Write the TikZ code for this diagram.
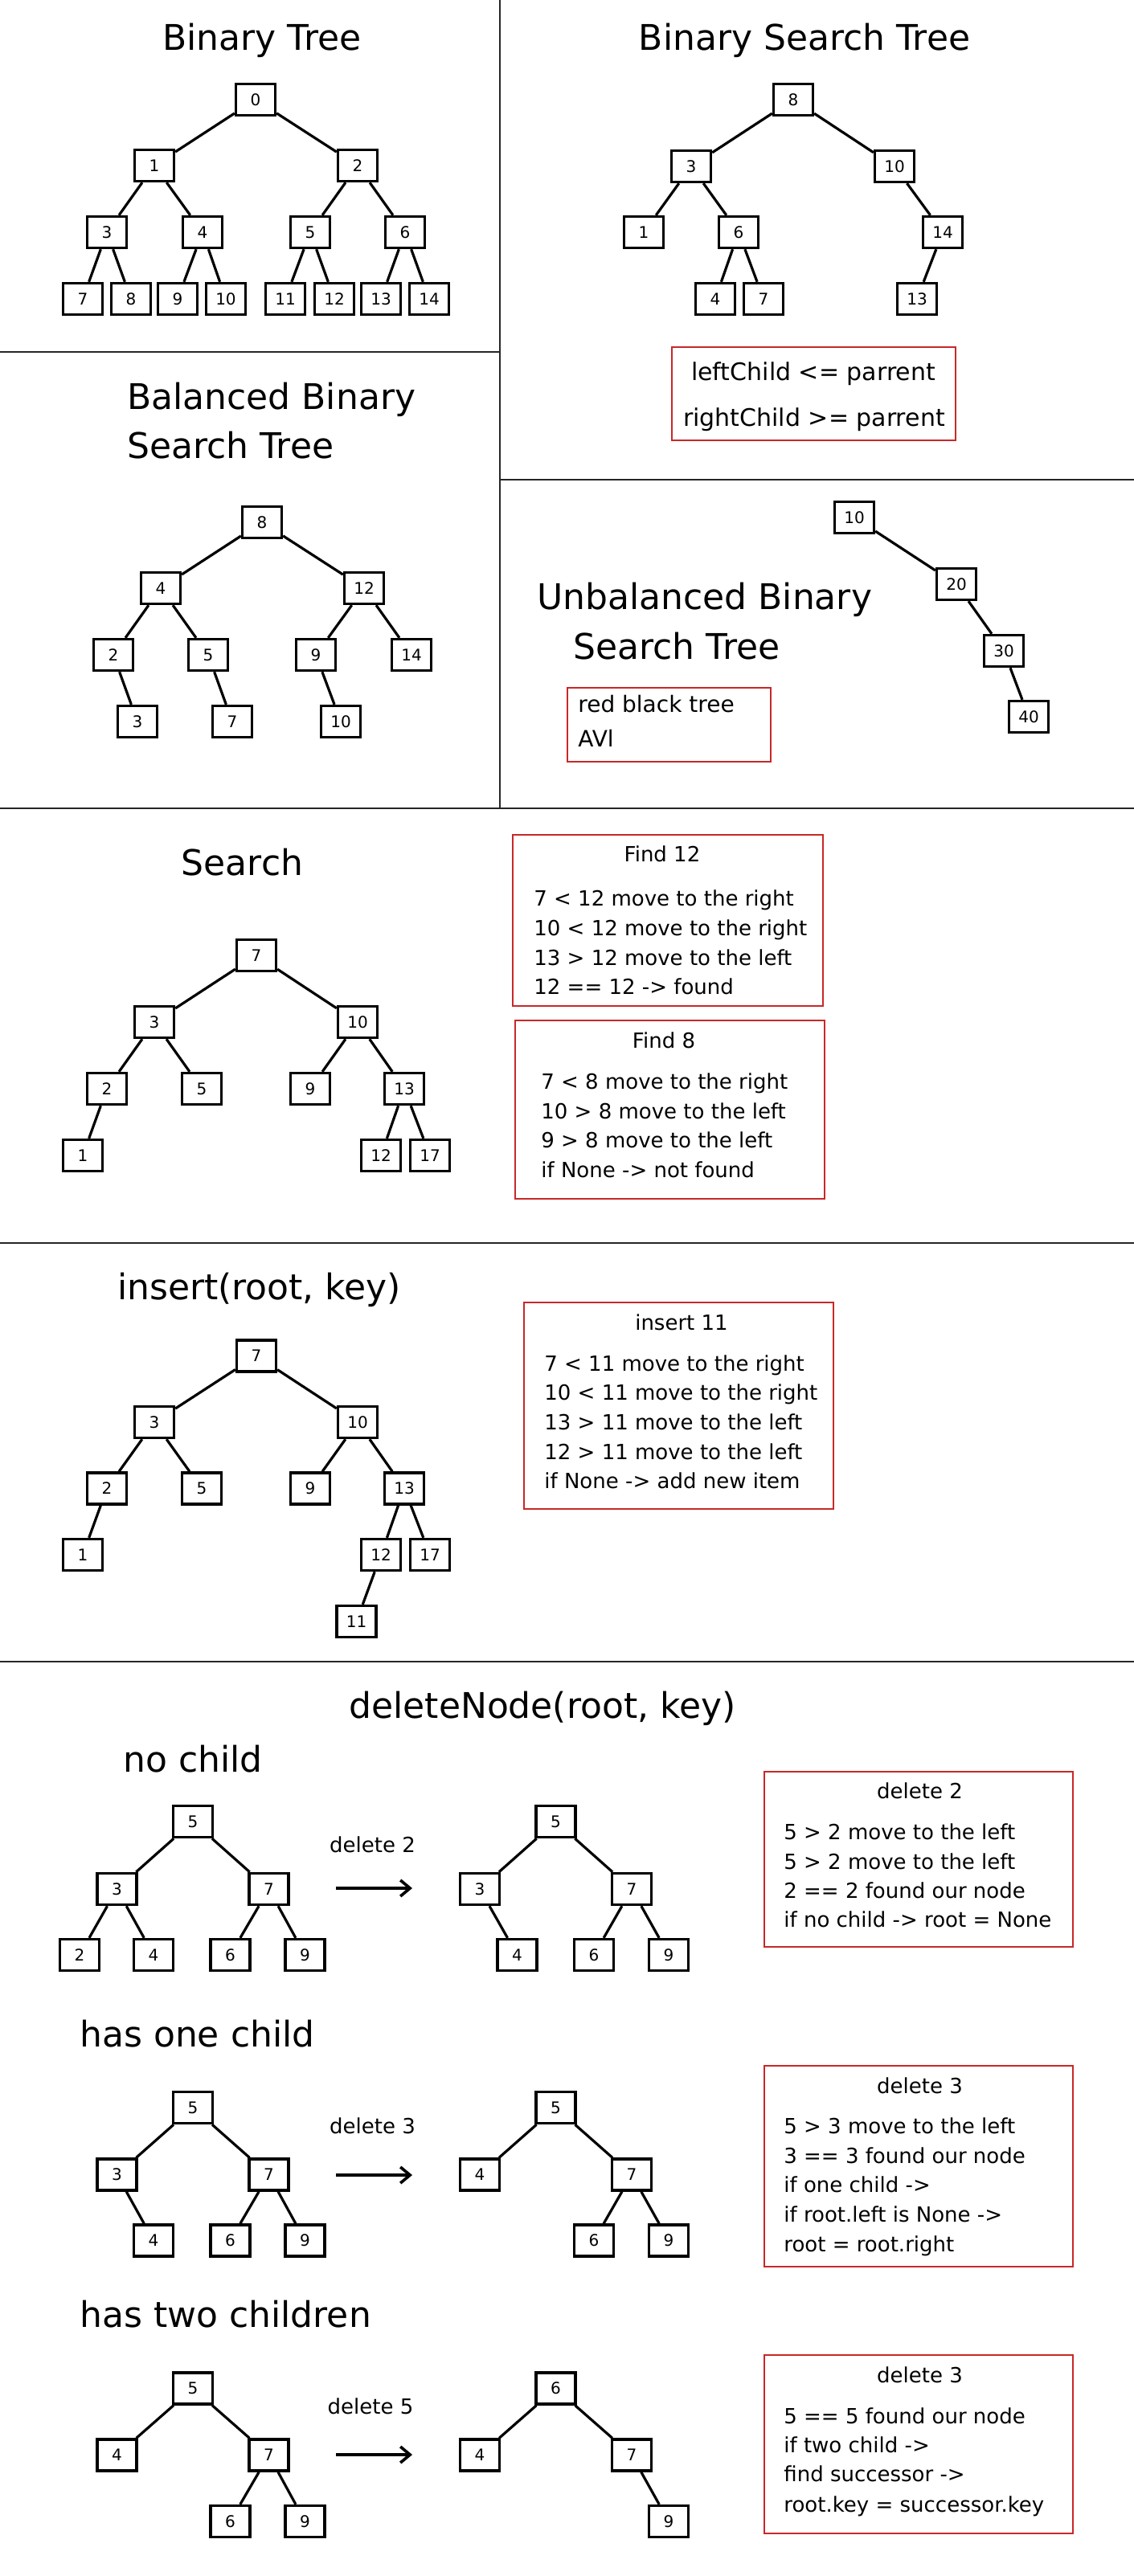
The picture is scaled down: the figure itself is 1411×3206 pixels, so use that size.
\documentclass[tikz,border=0pt]{standalone}
\usepackage{fontspec}
\setmainfont{DejaVu Sans}
\usetikzlibrary{arrows.meta}
\definecolor{boxred}{RGB}{200,40,40}
\begin{document}
\begin{tikzpicture}[x=0.5pt,y=-0.5pt,
  tn/.style={draw, line width=1.7pt, minimum width=24.5pt, minimum height=19.5pt, inner sep=0pt, font=\fontsize{10}{12}\selectfont},
  ed/.style={line width=1.6pt},
  sepline/.style={line width=1.4pt, draw=black!85},
  rbox/.style={draw=boxred, line width=1.1pt},
  ttl/.style={font=\fontsize{22}{26}\selectfont, anchor=base, inner sep=0pt},
  ttlw/.style={font=\fontsize{22}{26}\selectfont, anchor=base west, inner sep=0pt},
  bigtxt/.style={font=\fontsize{15}{18}\selectfont, anchor=base, inner sep=0pt},
  midtxt/.style={font=\fontsize{14}{17}\selectfont, anchor=base west, inner sep=0pt},
  smc/.style={font=\fontsize{13}{16}\selectfont, anchor=base, inner sep=0pt},
  smw/.style={font=\fontsize{13}{16}\selectfont, anchor=base west, inner sep=0pt},
  arr/.style={line width=1.8pt, -{Straight Barb[length=6pt,width=10pt,line width=1.8pt]}}
]
\fill[white] (0,0) rectangle (1411,3206);
\useasboundingbox (0,0) rectangle (1411,3206);

% separators
\coordinate (v1) at (622,0); \coordinate (v2) at (622,1006);
\coordinate (h1a) at (0,438); \coordinate (h1b) at (622,438);
\coordinate (h2a) at (622,597); \coordinate (h2b) at (1411,597);
\coordinate (h3a) at (0,1006); \coordinate (h3b) at (1411,1006);
\coordinate (h4a) at (0,1547); \coordinate (h4b) at (1411,1547);
\coordinate (h5a) at (0,2068); \coordinate (h5b) at (1411,2068);
\draw[sepline] (v1) -- (v2);
\draw[sepline] (h1a) -- (h1b);
\draw[sepline] (h2a) -- (h2b);
\draw[sepline] (h3a) -- (h3b);
\draw[sepline] (h4a) -- (h4b);
\draw[sepline] (h5a) -- (h5b);

% ---------- Binary Tree ----------
\node[ttl] (tBT) at (326,63) {Binary Tree};
\node[tn] (b0) at (318,124) {0};
\node[tn] (b1) at (192,206) {1};
\node[tn] (b2) at (445,206) {2};
\node[tn] (b3) at (133,289) {3};
\node[tn] (b4) at (252,289) {4};
\node[tn] (b5) at (386,289) {5};
\node[tn] (b6) at (504,289) {6};
\node[tn] (b7) at (103,372) {7};
\node[tn] (b8) at (163,372) {8};
\node[tn] (b9) at (221,372) {9};
\node[tn] (b10) at (281,372) {10};
\node[tn] (b11) at (355,372) {11};
\node[tn] (b12) at (416,372) {12};
\node[tn] (b13) at (474,372) {13};
\node[tn] (b14) at (534,372) {14};
\foreach \p/\c in {b0/b1,b0/b2,b1/b3,b1/b4,b2/b5,b2/b6,b3/b7,b3/b8,b4/b9,b4/b10,b5/b11,b5/b12,b6/b13,b6/b14}
  \draw[ed] (\p) -- (\c);

% ---------- Binary Search Tree ----------
\node[ttl] (tBST) at (1001,63) {Binary Search Tree};
\node[tn] (s8) at (987,124) {8};
\node[tn] (s3) at (860,207) {3};
\node[tn] (s10) at (1113,207) {10};
\node[tn] (s1) at (801,289) {1};
\node[tn] (s6) at (919,289) {6};
\node[tn] (s14) at (1173,289) {14};
\node[tn] (s4) at (890,372) {4};
\node[tn] (s7) at (950,372) {7};
\node[tn] (s13) at (1141,372) {13};
\foreach \p/\c in {s8/s3,s8/s10,s3/s1,s3/s6,s6/s4,s6/s7,s10/s14,s14/s13}
  \draw[ed] (\p) -- (\c);
\draw[rbox] (836,432) rectangle (1189,548);
\node[bigtxt] (bstl1) at (1012,473) {leftChild <= parrent};
\node[bigtxt] (bstl2) at (1013,530) {rightChild >= parrent};

% ---------- Balanced BST ----------
\node[ttlw] (tBal1) at (158,509) {Balanced Binary};
\node[ttlw] (tBal2) at (158,570) {Search Tree};
\node[tn] (c8) at (326,650) {8};
\node[tn] (c4) at (200,732) {4};
\node[tn] (c12) at (453,732) {12};
\node[tn] (c2) at (141,815) {2};
\node[tn] (c5) at (259,815) {5};
\node[tn] (c9) at (393,815) {9};
\node[tn] (c14) at (512,815) {14};
\node[tn] (c3) at (171,898) {3};
\node[tn] (c7) at (289,898) {7};
\node[tn] (c10) at (424,898) {10};
\foreach \p/\c in {c8/c4,c8/c12,c4/c2,c4/c5,c12/c9,c12/c14,c2/c3,c5/c7,c9/c10}
  \draw[ed] (\p) -- (\c);

% ---------- Unbalanced BST ----------
\node[ttlw] (tUn1) at (668,758) {Unbalanced Binary};
\node[ttlw] (tUn2) at (713,820) {Search Tree};
\node[tn] (u10) at (1063,644) {10};
\node[tn] (u20) at (1190,727) {20};
\node[tn] (u30) at (1249,810) {30};
\node[tn] (u40) at (1280,892) {40};
\foreach \p/\c in {u10/u20,u20/u30,u30/u40}
  \draw[ed] (\p) -- (\c);
\draw[rbox] (706,856) rectangle (959,948);
\node[midtxt] (unl1) at (719,886) {red black tree};
\node[midtxt] (unl2) at (719,929) {AVl};

% ---------- Search ----------
\node[ttl] (tSearch) at (301.5,1089) {Search};
\node[tn] (t7) at (319,1189) {7};
\node[tn] (t3) at (192,1272) {3};
\node[tn] (t10) at (445,1272) {10};
\node[tn] (t2) at (133,1355) {2};
\node[tn] (t5) at (251,1355) {5};
\node[tn] (t9) at (386,1355) {9};
\node[tn] (t13) at (503,1355) {13};
\node[tn] (t1) at (103,1438) {1};
\node[tn] (t12) at (474,1438) {12};
\node[tn] (t17) at (535,1438) {17};
\foreach \p/\c in {t7/t3,t7/t10,t3/t2,t3/t5,t10/t9,t10/t13,t2/t1,t13/t12,t13/t17}
  \draw[ed] (\p) -- (\c);
\draw[rbox] (638,1039) rectangle (1024,1252);
\node[smc] (f12t) at (824,1072) {Find 12};
\node[smw] (f12a) at (664,1127) {7 < 12 move to the right};
\node[smw] (f12b) at (664,1164) {10 < 12 move to the right};
\node[smw] (f12c) at (664,1201) {13 > 12 move to the left};
\node[smw] (f12d) at (664,1237) {12 == 12 -> found};
\draw[rbox] (641,1270) rectangle (1026,1492);
\node[smc] (f8t) at (826,1304) {Find 8};
\node[smw] (f8a) at (673,1355) {7 < 8 move to the right};
\node[smw] (f8b) at (673,1392) {10 > 8 move to the left};
\node[smw] (f8c) at (673,1428) {9 > 8 move to the left};
\node[smw] (f8d) at (673,1465) {if None -> not found};

% ---------- insert ----------
\node[ttl] (tIns) at (322.5,1617) {insert(root, key)};
\node[tn] (i7) at (319,1687.5) {7};
\node[tn] (i3) at (192,1770) {3};
\node[tn] (i10) at (445,1770) {10};
\node[tn] (i2) at (133,1852.5) {2};
\node[tn] (i5) at (251,1852.5) {5};
\node[tn] (i9) at (386,1852.5) {9};
\node[tn] (i13) at (503,1852.5) {13};
\node[tn] (i1) at (103,1935) {1};
\node[tn] (i12) at (474,1935) {12};
\node[tn] (i17) at (535,1935) {17};
\node[tn] (i11) at (443.5,2018) {11};
\foreach \p/\c in {i7/i3,i7/i10,i3/i2,i3/i5,i10/i9,i10/i13,i2/i1,i13/i12,i13/i17,i12/i11}
  \draw[ed] (\p) -- (\c);
\draw[rbox] (652,1621) rectangle (1037,1878);
\node[smc] (inst) at (848,1655) {insert 11};
\node[smw] (insa) at (677,1706) {7 < 11 move to the right};
\node[smw] (insb) at (677,1742) {10 < 11 move to the right};
\node[smw] (insc) at (677,1779) {13 > 11 move to the left};
\node[smw] (insd) at (677,1816) {12 > 11 move to the left};
\node[smw] (inse) at (677,1852) {if None -> add new item};

% ---------- deleteNode ----------
\node[ttl] (tDel) at (675,2138) {deleteNode(root, key)};

% no child
\node[ttlw] (tNo) at (153,2205) {no child};
\node[tn] (d5) at (240,2267) {5};
\node[tn] (d3) at (145.5,2351) {3};
\node[tn] (d7) at (334.5,2351) {7};
\node[tn] (d2) at (99,2433) {2};
\node[tn] (d4) at (191,2433) {4};
\node[tn] (d6) at (286.5,2433) {6};
\node[tn] (d9) at (379.5,2433) {9};
\foreach \p/\c in {d5/d3,d5/d7,d3/d2,d3/d4,d7/d6,d7/d9}
  \draw[ed] (\p) -- (\c);
\node[smc] (lab1) at (463.5,2305) {delete 2};
\coordinate (a1s) at (418,2350); \coordinate (a1e) at (513,2350);
\draw[arr] (a1s) -- (a1e);
\node[tn] (e5) at (691.5,2267) {5};
\node[tn] (e3) at (597,2351) {3};
\node[tn] (e7) at (786,2351) {7};
\node[tn] (e4) at (643.5,2433) {4};
\node[tn] (e6) at (739,2433) {6};
\node[tn] (e9) at (832,2433) {9};
\foreach \p/\c in {e5/e3,e5/e7,e3/e4,e7/e6,e7/e9}
  \draw[ed] (\p) -- (\c);
\draw[rbox] (951,2205) rectangle (1335,2423);
\node[smc] (del2t) at (1144.5,2238) {delete 2};
\node[smw] (del2a) at (975,2289) {5 > 2 move to the left};
\node[smw] (del2b) at (975,2326) {5 > 2 move to the left};
\node[smw] (del2c) at (975,2362) {2 == 2 found our node};
\node[smw] (del2d) at (975,2398) {if no child -> root = None};

% has one child
\node[ttlw] (tOne) at (99,2547) {has one child};
\node[tn] (f5) at (240,2623) {5};
\node[tn] (f3) at (145.5,2706.5) {3};
\node[tn] (f7) at (334.5,2706.5) {7};
\node[tn] (f4) at (191,2788.5) {4};
\node[tn] (f6) at (286.5,2788.5) {6};
\node[tn] (f9) at (379.5,2788.5) {9};
\foreach \p/\c in {f5/f3,f5/f7,f3/f4,f7/f6,f7/f9}
  \draw[ed] (\p) -- (\c);
\node[smc] (lab2) at (463.5,2655) {delete 3};
\coordinate (a2s) at (418,2707); \coordinate (a2e) at (513,2707);
\draw[arr] (a2s) -- (a2e);
\node[tn] (g5) at (691.5,2623) {5};
\node[tn] (g4) at (597,2706.5) {4};
\node[tn] (g7) at (786,2706.5) {7};
\node[tn] (g6) at (739,2788.5) {6};
\node[tn] (g9) at (832,2788.5) {9};
\foreach \p/\c in {g5/g4,g5/g7,g7/g6,g7/g9}
  \draw[ed] (\p) -- (\c);
\draw[rbox] (951,2571) rectangle (1335,2821);
\node[smc] (del3t) at (1144.5,2605) {delete 3};
\node[smw] (del3a) at (975,2655) {5 > 3 move to the left};
\node[smw] (del3b) at (975,2692) {3 == 3 found our node};
\node[smw] (del3c) at (975,2728) {if one child ->};
\node[smw] (del3d) at (975,2765) {if root.left is None ->};
\node[smw] (del3e) at (975,2802) {root = root.right};

% has two children
\node[ttlw] (tTwo) at (99,2896) {has two children};
\node[tn] (h5) at (240,2972.5) {5};
\node[tn] (h4) at (145.5,3055.5) {4};
\node[tn] (h7) at (334.5,3055.5) {7};
\node[tn] (h6) at (286.5,3138) {6};
\node[tn] (h9) at (379.5,3138) {9};
\foreach \p/\c in {h5/h4,h5/h7,h7/h6,h7/h9}
  \draw[ed] (\p) -- (\c);
\node[smc] (lab3) at (461,3004) {delete 5};
\coordinate (a3s) at (418,3055); \coordinate (a3e) at (513,3055);
\draw[arr] (a3s) -- (a3e);
\node[tn] (k6) at (691.5,2972.5) {6};
\node[tn] (k4) at (597,3055.5) {4};
\node[tn] (k7) at (786,3055.5) {7};
\node[tn] (k9) at (832,3138) {9};
\foreach \p/\c in {k6/k4,k6/k7,k7/k9}
  \draw[ed] (\p) -- (\c);
\draw[rbox] (951,2931) rectangle (1335,3153);
\node[smc] (del5t) at (1144.5,2965) {delete 3};
\node[smw] (del5a) at (975,3016) {5 == 5 found our node};
\node[smw] (del5b) at (975,3052) {if two child ->};
\node[smw] (del5c) at (975,3088) {find successor ->};
\node[smw] (del5d) at (975,3126) {root.key = successor.key};
\end{tikzpicture}
\end{document}
